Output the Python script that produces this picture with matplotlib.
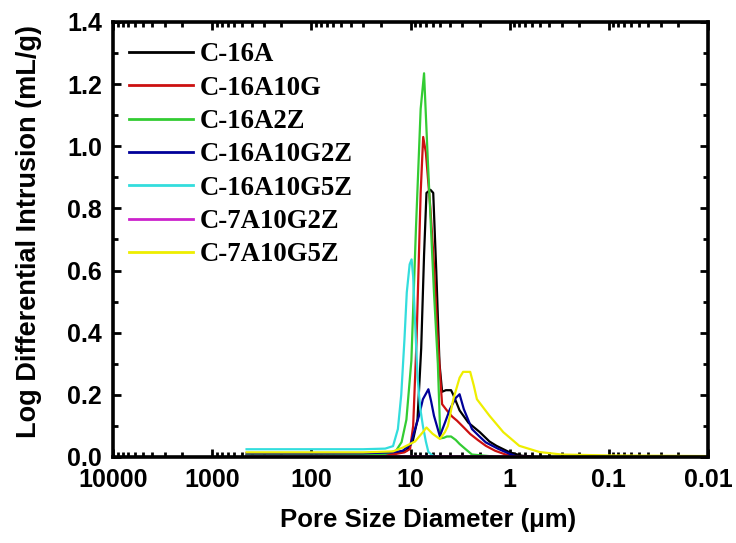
import numpy as np
import matplotlib
matplotlib.use("Agg")
import matplotlib.pyplot as plt
from matplotlib.ticker import FixedLocator, FixedFormatter, MultipleLocator, LogLocator, NullFormatter

# ── data (pore size in um, log diff intrusion in mL/g) ──
x_c16a = [450, 100, 30, 15, 11, 9.5, 8.5, 7.8, 7.3, 6.9, 6.3, 5.9, 5.5, 5.1, 4.8, 4.4,
          3.9, 3.7, 3.2, 2.6, 2.0, 1.6, 1.36, 1.0, 0.75, 0.6]
y_c16a = [0.005, 0.005, 0.006, 0.01, 0.02, 0.05, 0.12, 0.35, 0.65, 0.85, 0.86, 0.85, 0.6, 0.3,
          0.21, 0.215, 0.215, 0.2, 0.15, 0.11, 0.08, 0.05, 0.036, 0.015, 0.004, 0.002]

x_c16a10g = [450, 100, 20, 14, 11.5, 10.1, 9.4, 8.7, 7.9, 7.45, 7.0, 6.3, 5.8, 5.4, 5.0, 4.8,
             4.3, 3.8, 3.4, 2.9, 2.5, 2.1, 1.74, 1.4, 1.1, 0.9]
y_c16a10g = [0.004, 0.004, 0.006, 0.01, 0.015, 0.026, 0.1, 0.37, 0.85, 1.03, 0.98, 0.8, 0.62,
             0.42, 0.25, 0.17, 0.15, 0.13, 0.117, 0.095, 0.074, 0.055, 0.036, 0.02, 0.008, 0.002]

x_c16a2z = [450, 100, 30, 18, 14, 12.3, 11, 9.8, 8.8, 7.9, 7.3, 6.7, 5.8, 5.3, 5.0, 4.6,
            4.3, 3.9, 3.5, 3.2, 2.8, 2.4, 1.5]
y_c16a2z = [0.005, 0.005, 0.006, 0.01, 0.02, 0.048, 0.12, 0.31, 0.74, 1.12, 1.235, 0.96, 0.53,
            0.3, 0.06, 0.062, 0.066, 0.066, 0.055, 0.042, 0.026, 0.008, 0.002]

x_c16a10g2z = [450, 100, 30, 15, 12, 10, 9.0, 8.2, 7.5, 6.6, 6.2, 5.8, 5.06, 4.5, 4.0, 3.5,
               3.2, 2.9, 2.4, 2.0, 1.74, 1.3, 1.0, 0.85]
y_c16a10g2z = [0.012, 0.012, 0.012, 0.015, 0.02, 0.04, 0.09, 0.133, 0.186, 0.218, 0.18, 0.133,
               0.067, 0.11, 0.154, 0.19, 0.202, 0.154, 0.09, 0.065, 0.047, 0.026, 0.01, 0.002]

x_c16a10g5z = [450, 100, 30, 18, 15, 13.4, 12.4, 11.5, 10.9, 10.2, 9.75, 9.4, 9.1, 8.5, 8.0,
               7.5, 7.0, 6.6, 6.0, 5.5]
y_c16a10g5z = [0.025, 0.025, 0.025, 0.027, 0.035, 0.09, 0.2, 0.38, 0.53, 0.62, 0.636, 0.58,
               0.47, 0.26, 0.16, 0.1, 0.05, 0.016, 0.005, 0.0]

x_c7a10g2z = [450, 100, 10, 3, 1, 0.6]
y_c7a10g2z = [0.002, 0.002, 0.002, 0.002, 0.002, 0.001]

x_c7a10g5z = [450, 100, 30, 15, 12, 9, 7.5, 6.9, 6.0, 5.06, 4.5, 4.2, 3.7, 3.2, 2.95, 2.5,
              2.3, 2.14, 1.6, 1.16, 0.8, 0.5, 0.3, 0.1, 0.01]
y_c7a10g5z = [0.015, 0.015, 0.015, 0.018, 0.03, 0.05, 0.08, 0.095, 0.075, 0.058, 0.08, 0.1,
              0.186, 0.255, 0.274, 0.274, 0.23, 0.186, 0.133, 0.08, 0.036, 0.016, 0.008, 0.005,
              0.003]

series = [
    ("C-16A",      x_c16a,      y_c16a,      "#000000"),
    ("C-16A10G",   x_c16a10g,   y_c16a10g,   "#CC1010"),
    ("C-16A2Z",    x_c16a2z,    y_c16a2z,    "#33CC33"),
    ("C-16A10G2Z", x_c16a10g2z, y_c16a10g2z, "#000099"),
    ("C-16A10G5Z", x_c16a10g5z, y_c16a10g5z, "#33DDDD"),
    ("C-7A10G2Z",  x_c7a10g2z,  y_c7a10g2z,  "#CC22CC"),
    ("C-7A10G5Z",  x_c7a10g5z,  y_c7a10g5z,  "#EEEE00"),
]

x_ticks = [10000, 1000, 100, 10, 1, 0.1, 0.01]
x_tick_labels = ["10000", "1000", "100", "10", "1", "0.1", "0.01"]

SANS = ["Liberation Sans", "DejaVu Sans"]
SERIF = ["Liberation Serif", "DejaVu Serif"]

fig = plt.figure(figsize=(7.36, 5.43), dpi=100)
ax = fig.add_axes([113 / 736, 1 - 457 / 543, 595 / 736, 435 / 543])

for name, xs, ys, col in series:
    ax.plot(xs, ys, color=col, linewidth=1.6, label=name)

ax.set_xscale("log")
ax.set_xlim(10000, 0.01)
ax.set_ylim(0, 1.4)

ax.xaxis.set_major_locator(FixedLocator(x_ticks))
ax.xaxis.set_major_formatter(FixedFormatter(x_tick_labels))
ax.xaxis.set_minor_locator(LogLocator(base=10, subs=np.arange(2, 10), numticks=20))
ax.xaxis.set_minor_formatter(NullFormatter())
ax.yaxis.set_major_locator(MultipleLocator(0.2))
ax.yaxis.set_minor_locator(MultipleLocator(0.1))
ax.yaxis.set_major_formatter(plt.FuncFormatter(lambda v, p: f"{v:.1f}"))

for s in ax.spines.values():
    s.set_linewidth(2.6)
ax.tick_params(which="both", direction="in", top=True, right=True, width=2.0)
ax.tick_params(which="major", length=6, pad=8)
ax.tick_params(which="minor", length=3.8)
for lab in ax.get_xticklabels() + ax.get_yticklabels():
    lab.set_family(SANS)
    lab.set_fontweight("bold")
    lab.set_fontsize(18)

fig.text(428 / 736, 1 - 520 / 543, "Pore Size Diameter (\u03bcm)", family=SANS,
         fontweight="bold", fontsize=18.5, ha="center", va="center")
fig.text(29 / 736, 1 - 232 / 543, "Log Differential Intrusion (mL/g)", family=SANS,
         fontweight="bold", fontsize=19.5, ha="center", va="center", rotation=90)

leg = ax.legend(loc="upper left", bbox_to_anchor=(0.027, 0.953), frameon=False,
                prop={"family": SERIF, "weight": "bold", "size": 19.3},
                handlelength=2.4, handletextpad=0.22, labelspacing=0.31,
                borderpad=0, borderaxespad=0)
for h in leg.get_lines():
    h.set_linewidth(2.0)

fig.savefig("out.png", dpi=100)
